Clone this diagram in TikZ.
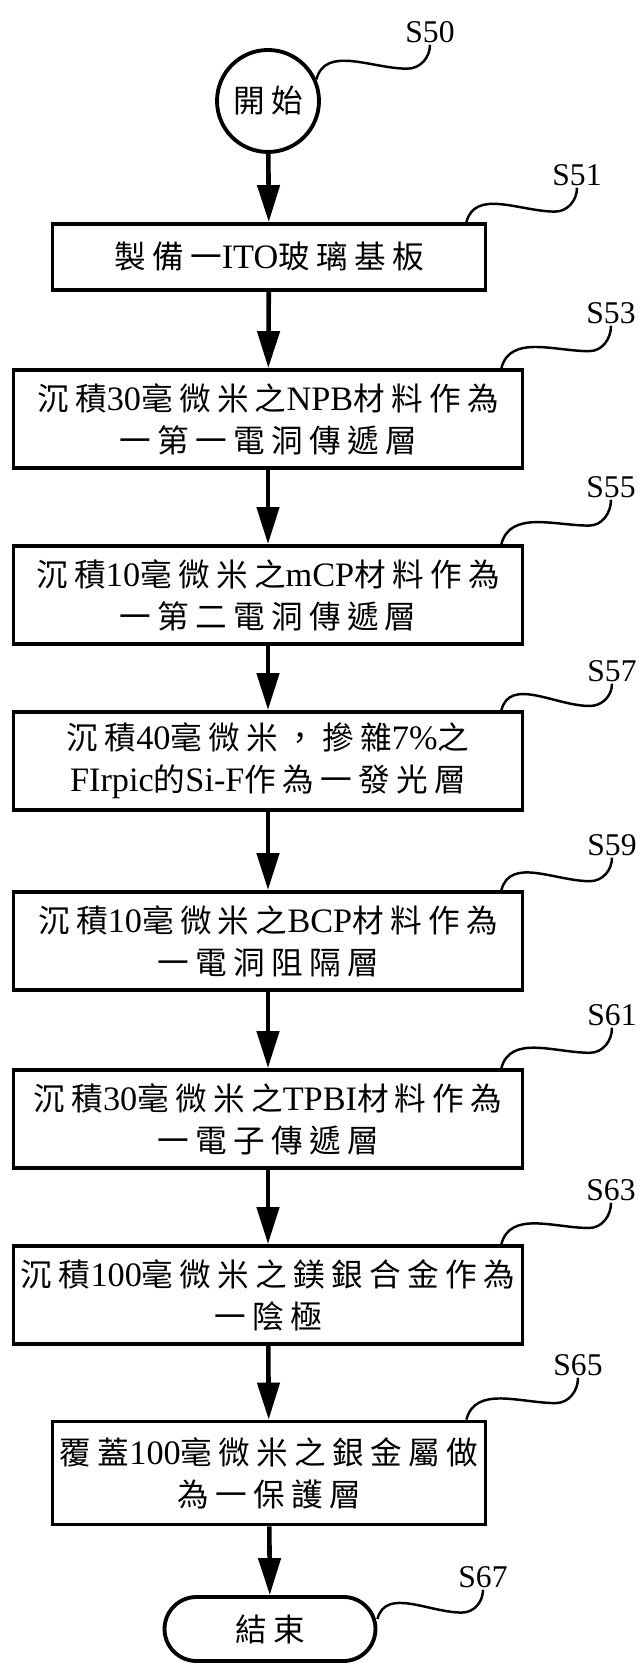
\documentclass[tikz,border=0pt]{standalone}
\usepackage{fontspec}
\setmainfont{Noto Sans CJK TC}[LetterSpace=20]
\newfontfamily\romanfont{Liberation Serif}
\newcommand{\en}[1]{{\romanfont\fontsize{19.5pt}{24pt}\selectfont #1}}
\usepackage{tikz}
\usetikzlibrary{arrows.meta,calc}
\newcommand{\wave}[2]{\draw[wavy] (#1) to[out=75,in=180] ($(#1)!0.8!(#2)+(0,-17)$) to[out=0,in=270] (#2);}

\begin{document}
\begin{tikzpicture}[
  x=0.02cm,y=0.02cm,
  every node/.style={font=\fontsize{18pt}{24pt}\selectfont},
  stepbox/.style={rectangle,draw,line width=2.2pt,minimum height=1.96cm,align=center,inner sep=0pt},
  wide/.style={stepbox,minimum width=10.18cm},
  narrow/.style={stepbox,minimum width=8.66cm},
  term/.style={circle,draw,line width=2.2pt,minimum size=2.04cm,inner sep=0pt},
  stadium/.style={rectangle,draw,line width=2.2pt,rounded corners=0.64cm,minimum width=4.22cm,minimum height=1.28cm,inner sep=0pt},
  flow/.style={-{Triangle[length=7.4mm,width=4.4mm]},line width=2.6pt},
  wavy/.style={line width=1.4pt},
  lbl/.style={font=\romanfont\fontsize{18pt}{20pt}\selectfont,inner sep=1pt}
]
  \useasboundingbox (0,0) rectangle (640,1666);
  % ---------------- STEPS ----------------
  \node[term] (start) at (268,1565) {開始};
  \node[narrow,minimum height=1.32cm] (b51) at (269,1409) {製備一\en{ITO}玻璃基板};
  \node[wide] (b53) at (268,1247) {沉積\en{30}毫微米之\en{NPB}材料作為\\一第一電洞傳遞層};
  \node[wide] (b55) at (268,1071) {沉積\en{10}毫微米之\en{mCP}材料作為\\一第二電洞傳遞層};
  \node[wide] (b57) at (268,905) {沉積\en{40}毫微米，摻雜\en{7\%}之\\\en{FIrpic}的\en{Si-F}作為一發光層};
  \node[wide] (b59) at (268,725) {沉積\en{10}毫微米之\en{BCP}材料作為\\一電洞阻隔層};
  \node[wide] (b61) at (268,547) {沉積\en{30}毫微米之\en{TPBI}材料作為\\一電子傳遞層};
  \node[wide] (b63) at (268,371) {沉積\en{100}毫微米之鎂銀合金作為\\一陰極};
  \node[narrow,minimum height=2.06cm] (b65) at (269,193) {覆蓋\en{100}毫微米之銀金屬做\\為一保護層};
  \node[stadium] (end) at (270,37) {結束};
  \foreach \a/\b in {start/b51,b51/b53,b53/b55,b55/b57,b57/b59,b59/b61,b61/b63,b63/b65,b65/end}{
    \draw[flow] (\a)--(\b);}
  % ---------------- LABELS ----------------
  \foreach \id/\x/\y in {50/430/1634,51/577/1491,53/611/1353,55/611/1179,57/612/995,59/612/821,61/612/651,63/611/476,65/578/301,67/483/89}{
    \node[lbl] (l\id) at (\x,\y) {S\id};}
  \coordinate (w50) at (start.24);
  \coordinate (w67) at ($(end.east)+(0,10)$);
  \foreach \id/\dx in {51/21,53/23,55/23,57/23,59/23,61/23,63/23,65/21}{
    \coordinate (w\id) at ($(b\id.north east)+(-\dx,0)$);}
  \foreach \id in {50,51,53,55,57,59,61,63,65,67}{\wave{w\id}{l\id.south}}
\end{tikzpicture}
\end{document}
